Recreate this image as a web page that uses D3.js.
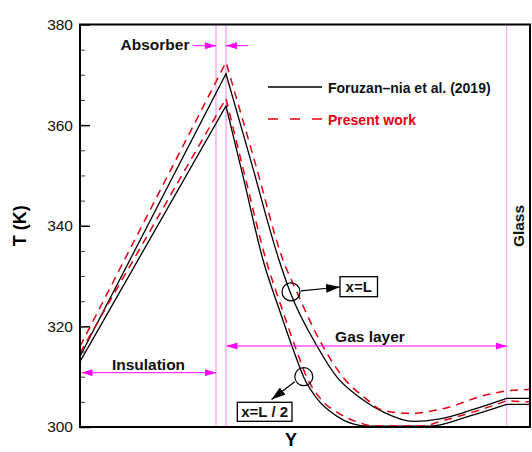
<!DOCTYPE html>
<html>
<head>
<meta charset="utf-8">
<script src="https://cdn.jsdelivr.net/npm/d3@7"></script>
<style>
  html, body { margin: 0; padding: 0; background: #fff; }
  svg { display: block; font-family: "Liberation Sans", Arial, sans-serif; }
</style>
</head>
<body>
<svg id="chart" width="532" height="452"></svg>
<script>
// Temperature profiles across the collector section (Y position vs T in K)
const yTicksMajor = [300, 320, 340, 360, 380];
const yTicksMinor = [305, 310, 315, 325, 330, 335, 345, 350, 355, 365, 370, 375];

// Layer boundaries along Y
const insulationEnd = 13.6;
const absorberEnd = 14.6;
const glassStart = 42.67;

// Reference solution (Foruzan-nia et al. 2019), x = L
const refL = [
  [0, 314.0], [14.6, 370.2], [17.1, 352.8], [19.9, 333.2], [21.0, 326.9],
  [23.7, 316.1], [25.7, 309.9], [28.0, 305.8], [30.5, 302.8], [33.3, 301.1],
  [36.0, 301.6], [39.5, 303.6], [42.67, 305.7], [45, 305.7]
];
// Reference solution, x = L/2
const refL2 = [
  [0, 313.0], [14.6, 363.8], [16.4, 349.0], [18.3, 333.2], [19.9, 323.5],
  [21.3, 315.5], [22.4, 309.8], [23.8, 305.4], [25.5, 302.4], [27.3, 300.6],
  [28.8, 300.15], [35.0, 300.15], [39.0, 302.2], [42.67, 304.5], [45, 304.5]
];
// Present work, x = L
const presL = [
  [0, 316.0], [14.6, 372.5], [17.5, 352.6], [20.3, 333.2], [21.67, 326.9],
  [24.3, 316.0], [26.3, 309.9], [28.5, 305.8], [30.3, 303.3], [33.0, 302.7],
  [36.0, 303.5], [40.67, 306.4], [42.67, 307.2], [45, 307.5]
];
// Present work, x = L/2
const presL2 = [
  [0, 314.7], [14.6, 365.3], [16.6, 349.0], [18.6, 333.2], [20.2, 323.5],
  [21.6, 315.5], [22.7, 309.8], [24.1, 305.5], [25.8, 302.8], [27.6, 301.1],
  [29.5, 300.2], [34.3, 300.2], [36.0, 301.1], [40.0, 303.4], [42.67, 305.2],
  [45, 305.0]
];

const legendLabels = ["Foruzan\u2013nia et al. (2019)", "Present work"];

const RED = "#e6000f";
const MAGENTA = "#ff00ff";
const PINK = "#f8bff8";

const svg = d3.select("#chart");
const x = d3.scaleLinear().domain([0, 45]).range([80, 530]);
const y = d3.scaleLinear().domain([300, 380]).range([427, 24.5]);

const defs = svg.append("defs");
function marker(id, color, len, half) {
  defs.append("marker")
    .attr("id", id)
    .attr("viewBox", `0 ${-half} ${len} ${2 * half}`)
    .attr("refX", len).attr("refY", 0)
    .attr("markerWidth", len).attr("markerHeight", 2 * half)
    .attr("markerUnits", "userSpaceOnUse")
    .attr("orient", "auto")
    .append("path")
    .attr("d", `M0,${-half}L${len},0L0,${half}Z`)
    .attr("fill", color);
}
marker("arrM", MAGENTA, 11, 3.5);
marker("arrK", "#000", 14, 4.5);

// Layer boundary lines
[insulationEnd, absorberEnd].forEach(v => {
  svg.append("line")
    .attr("x1", x(v)).attr("x2", x(v))
    .attr("y1", y(380)).attr("y2", y(300))
    .attr("stroke", PINK).attr("stroke-width", 2);
});
svg.append("line")
  .attr("x1", x(glassStart)).attr("x2", x(glassStart))
  .attr("y1", y(380)).attr("y2", y(300))
  .attr("stroke", "#ff99ff").attr("stroke-width", 1);

// Axis ticks (inward) on the left side
svg.append("g")
  .attr("transform", `translate(${x(0)},0)`)
  .call(d3.axisLeft(y).tickValues(yTicksMinor).tickSize(-5).tickFormat(""))
  .call(g => g.select(".domain").remove())
  .call(g => g.selectAll("line").attr("stroke", "#444").attr("stroke-width", 1));
svg.append("g")
  .attr("transform", `translate(${x(0)},0)`)
  .call(d3.axisLeft(y).tickValues(yTicksMajor).tickSize(-10).tickPadding(7).tickFormat(d3.format("d")))
  .call(g => g.select(".domain").remove())
  .call(g => g.selectAll("line").attr("stroke", "#000").attr("stroke-width", 1.5))
  .call(g => g.selectAll("text")
    .attr("font-family", "Liberation Sans, Arial, sans-serif")
    .attr("font-size", 15.5).attr("fill", "#111"));

// Profiles: straight through insulation/absorber, smooth through the gas, straight in glass
const lin = d3.line().x(d => x(d[0])).y(d => y(d[1]));
const smooth = d3.line().x(d => x(d[0])).y(d => y(d[1])).curve(d3.curveMonotoneX);
function profilePath(data) {
  const rise = data.filter(d => d[0] <= absorberEnd);
  const gas = data.filter(d => d[0] >= absorberEnd && d[0] <= glassStart);
  const glass = data.filter(d => d[0] >= glassStart);
  return lin(rise) + smooth(gas).replace(/^M/, "L") + lin(glass).replace(/^M/, "L");
}
[refL, refL2].forEach(s => {
  svg.append("path").attr("d", profilePath(s))
    .attr("fill", "none").attr("stroke", "#000").attr("stroke-width", 1.3);
});
[presL, presL2].forEach(s => {
  svg.append("path").attr("d", profilePath(s))
    .attr("fill", "none").attr("stroke", RED).attr("stroke-width", 1.5)
    .attr("stroke-dasharray", "8,6");
});

// Frame
svg.append("rect")
  .attr("x", x(0)).attr("y", y(380))
  .attr("width", x(45) - x(0)).attr("height", y(300) - y(380))
  .attr("fill", "none").attr("stroke", "#000").attr("stroke-width", 2);

// Axis titles
svg.append("text")
  .attr("transform", `translate(26,${y(340)}) rotate(-90)`)
  .attr("text-anchor", "middle")
  .attr("font-weight", "bold").attr("font-size", 18)
  .text("T (K)");
svg.append("text")
  .attr("x", 291).attr("y", 446)
  .attr("text-anchor", "middle")
  .attr("font-weight", "bold").attr("font-size", 18)
  .text("Y");

// Layer annotations
function magArrow(x1, x2, yy) {
  svg.append("line")
    .attr("x1", x1).attr("x2", x2).attr("y1", yy).attr("y2", yy)
    .attr("stroke", MAGENTA).attr("stroke-width", 1)
    .attr("marker-end", "url(#arrM)");
}
const yAbs = 45.7, yIns = 372.7, yGas = 346;
magArrow(x(11.3), x(insulationEnd), yAbs);
magArrow(x(16.8), x(absorberEnd), yAbs);
magArrow(x(6.8), x(0) + 1.5, yIns);
magArrow(x(6.8), x(insulationEnd), yIns);
magArrow(x(28.6), x(absorberEnd) + 0.5, yGas);
magArrow(x(28.6), x(glassStart), yGas);

function label(txt, xx, yy, anchor) {
  svg.append("text")
    .attr("x", xx).attr("y", yy)
    .attr("text-anchor", anchor || "start")
    .attr("font-weight", "bold").attr("font-size", 15.5).attr("fill", "#111")
    .text(txt);
}
label("Absorber", 155, 50, "middle");
label("Insulation", 148.5, 369.5, "middle");
label("Gas layer", 370, 341.5, "middle");
svg.append("text")
  .attr("transform", `translate(524,226) rotate(-90)`)
  .attr("text-anchor", "middle")
  .attr("font-weight", "bold").attr("font-size", 15.5).attr("fill", "#111")
  .text("Glass");

// Legend
svg.append("line").attr("x1", 268).attr("x2", 322).attr("y1", 87).attr("y2", 87)
  .attr("stroke", "#000").attr("stroke-width", 1.3);
svg.append("text").attr("x", 328).attr("y", 92.5)
  .attr("font-weight", "bold").attr("font-size", 14).attr("fill", "#111")
  .text(legendLabels[0]);
svg.append("line").attr("x1", 268).attr("x2", 322).attr("y1", 119).attr("y2", 119)
  .attr("stroke", RED).attr("stroke-width", 1.5).attr("stroke-dasharray", "10,12");
svg.append("text").attr("x", 328).attr("y", 124.5)
  .attr("font-weight", "bold").attr("font-size", 14).attr("fill", RED)
  .text(legendLabels[1]);

// Curve callouts: circle on a profile, arrow to a boxed label
function callout(cx, cy, ax1, ay1, ax2, ay2, bx, by, bw, bh, txt) {
  svg.append("circle").attr("cx", cx).attr("cy", cy).attr("r", 9)
    .attr("fill", "none").attr("stroke", "#000").attr("stroke-width", 1.2);
  svg.append("line").attr("x1", ax1).attr("y1", ay1).attr("x2", ax2).attr("y2", ay2)
    .attr("stroke", "#000").attr("stroke-width", 1.2).attr("marker-end", "url(#arrK)");
  svg.append("rect").attr("x", bx).attr("y", by).attr("width", bw).attr("height", bh)
    .attr("fill", "#fff").attr("stroke", "#000").attr("stroke-width", 1.3);
  svg.append("text").attr("x", bx + bw / 2).attr("y", by + bh - 4.5)
    .attr("text-anchor", "middle")
    .attr("font-weight", "bold").attr("font-size", 15).attr("fill", "#111")
    .text(txt);
}
const cL = [x(21.1), y(326.85)];
const cL2 = [x(22.38), y(310.0)];
callout(cL[0], cL[1], cL[0] + 10, cL[1] - 1, 340, 287, 340, 276.7, 37.5, 20, "x=L");
callout(cL2[0], cL2[1], cL2[0] - 9, cL2[1] + 5, 271.5, 399.5, 237.3, 402.3, 54.7, 19, "x=L / 2");
</script>
</body>
</html>
